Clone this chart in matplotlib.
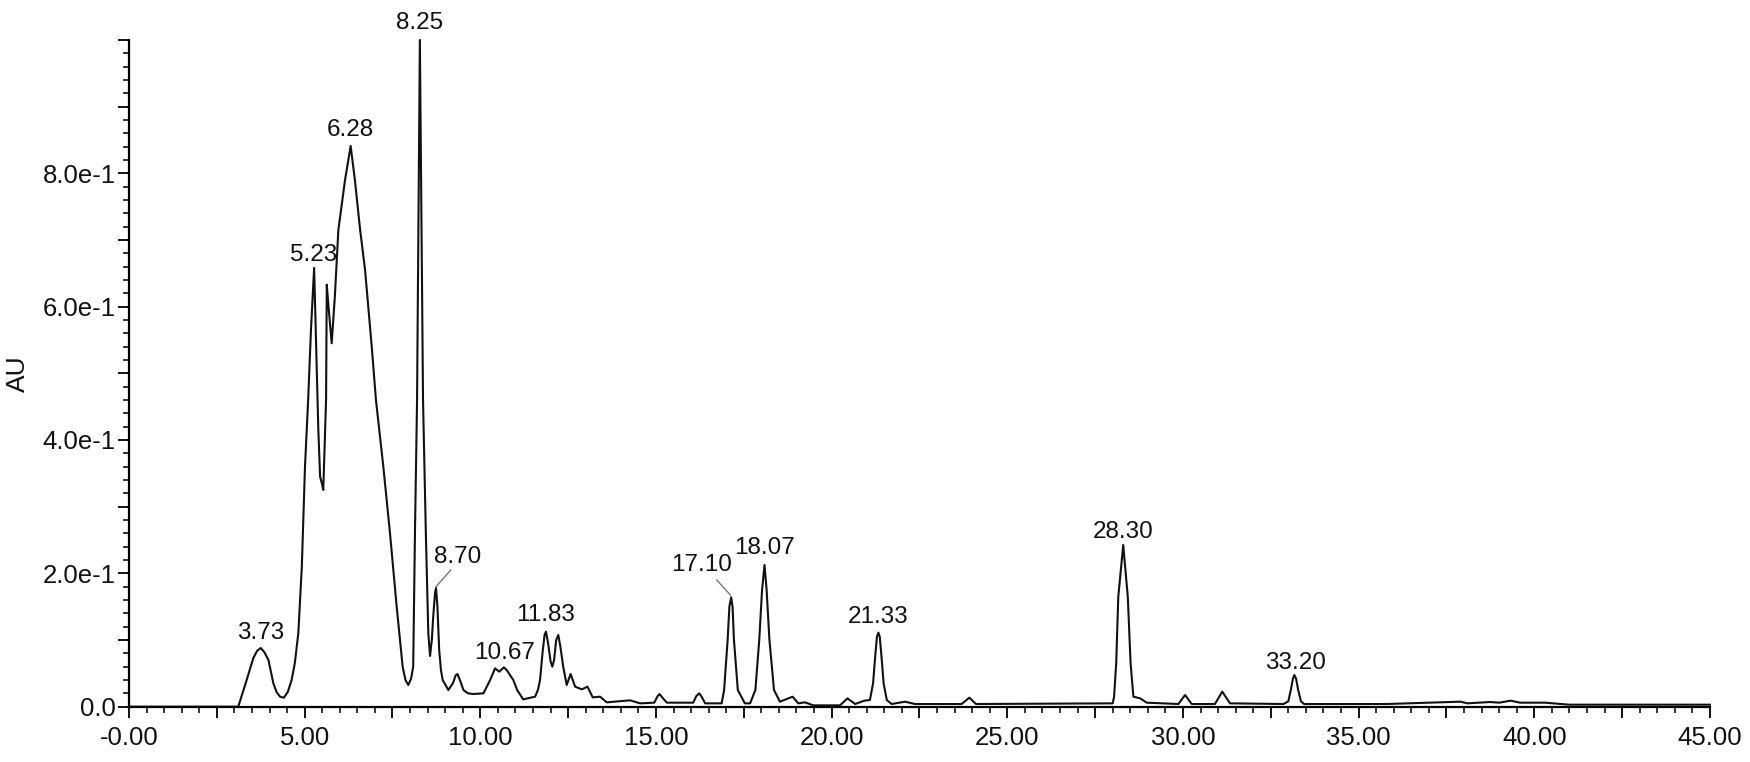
import matplotlib
matplotlib.use('Agg')
import matplotlib.pyplot as plt
import numpy as np
from matplotlib.ticker import MultipleLocator, FixedLocator, FuncFormatter

plt.rcParams['font.family'] = ['Liberation Sans', 'DejaVu Sans']

# trace (time in min, absorbance in AU)
times = [0.00, 3.11, 3.20, 3.35, 3.54, 3.65, 3.75, 3.85, 3.97, 4.05,
         4.11, 4.20, 4.30, 4.41, 4.52, 4.63, 4.72, 4.82, 4.92, 5.01,
         5.10, 5.18, 5.27, 5.34, 5.39, 5.44, 5.49, 5.53, 5.61, 5.63,
         5.68, 5.77, 5.86, 5.96, 6.15, 6.31, 6.43, 6.58, 6.72, 6.91,
         7.03, 7.24, 7.43, 7.62, 7.79, 7.87, 7.95, 8.03, 8.09, 8.14,
         8.20, 8.28, 8.37, 8.45, 8.52, 8.57, 8.62, 8.66, 8.71, 8.74,
         8.78, 8.83, 8.88, 8.93, 9.09, 9.22, 9.30, 9.35, 9.42, 9.52,
         9.65, 9.80, 10.09, 10.28, 10.42, 10.54, 10.67, 10.75, 10.94, 11.05,
         11.22, 11.56, 11.64, 11.70, 11.77, 11.83, 11.87, 11.93, 12.00, 12.05,
         12.10, 12.16, 12.22, 12.28, 12.36, 12.46, 12.57, 12.70, 12.89, 13.05,
         13.20, 13.41, 13.60, 14.26, 14.55, 14.95, 15.05, 15.10, 15.16, 15.31,
         16.06, 16.15, 16.23, 16.30, 16.40, 16.87, 16.94, 17.04, 17.09, 17.14,
         17.18, 17.22, 17.33, 17.53, 17.68, 17.83, 17.94, 18.02, 18.09, 18.15,
         18.23, 18.36, 18.53, 18.89, 19.05, 19.24, 19.48, 20.24, 20.45, 20.67,
         20.93, 21.09, 21.18, 21.24, 21.29, 21.33, 21.37, 21.42, 21.48, 21.57,
         21.71, 22.09, 22.37, 23.70, 23.92, 24.11, 28.00, 28.04, 28.10, 28.16,
         28.30, 28.43, 28.51, 28.59, 28.78, 28.97, 29.87, 30.06, 30.25, 30.91,
         31.12, 31.34, 32.86, 33.00, 33.07, 33.13, 33.17, 33.22, 33.28, 33.36,
         33.45, 35.80, 37.90, 38.10, 38.74, 39.00, 39.33, 39.60, 40.30, 41.00,
         45.00]
absorb = [0.000, 0.000, 0.015, 0.040, 0.073, 0.084, 0.088, 0.082, 0.070, 0.050,
          0.035, 0.022, 0.015, 0.0135, 0.022, 0.040, 0.065, 0.110, 0.210, 0.360,
          0.460, 0.565, 0.658, 0.515, 0.415, 0.345, 0.335, 0.325, 0.460, 0.633,
          0.600, 0.545, 0.615, 0.715, 0.790, 0.841, 0.790, 0.715, 0.655, 0.540,
          0.460, 0.360, 0.260, 0.150, 0.060, 0.040, 0.0325, 0.042, 0.060, 0.260,
          0.460, 1.000, 0.460, 0.260, 0.110, 0.076, 0.100, 0.135, 0.170, 0.178,
          0.150, 0.085, 0.055, 0.040, 0.025, 0.035, 0.047, 0.049, 0.040, 0.025,
          0.020, 0.019, 0.020, 0.040, 0.0575, 0.0525, 0.059, 0.055, 0.040, 0.025,
          0.011, 0.015, 0.025, 0.040, 0.080, 0.108, 0.1125, 0.095, 0.068, 0.060,
          0.070, 0.100, 0.1075, 0.090, 0.060, 0.0325, 0.049, 0.030, 0.026, 0.030,
          0.014, 0.015, 0.0065, 0.0095, 0.005, 0.006, 0.016, 0.019, 0.015, 0.006,
          0.006, 0.016, 0.020, 0.015, 0.005, 0.005, 0.025, 0.100, 0.150, 0.164,
          0.150, 0.100, 0.025, 0.005, 0.005, 0.025, 0.100, 0.175, 0.2125, 0.175,
          0.100, 0.025, 0.0075, 0.015, 0.005, 0.0065, 0.002, 0.002, 0.0125, 0.004,
          0.009, 0.010, 0.035, 0.075, 0.105, 0.111, 0.105, 0.075, 0.035, 0.010,
          0.004, 0.0075, 0.004, 0.004, 0.0135, 0.004, 0.005, 0.015, 0.065, 0.165,
          0.2425, 0.165, 0.065, 0.015, 0.0125, 0.006, 0.004, 0.0175, 0.004, 0.004,
          0.0225, 0.005, 0.004, 0.008, 0.025, 0.042, 0.0475, 0.042, 0.025, 0.008,
          0.004, 0.004, 0.0075, 0.005, 0.007, 0.006, 0.009, 0.006, 0.006, 0.003,
          0.003]

# peak labels and where their text sits
peak_labels = ['3.73', '5.23', '6.28', '8.25', '8.70', '10.67',
               '11.83', '17.10', '18.07', '21.33', '28.30', '33.20']
label_t = [3.75, 5.27, 6.31, 8.28, 9.35, 10.69,
           11.87, 16.30, 18.10, 21.33, 28.30, 33.19]
label_au = [0.110, 0.677, 0.865, 1.026, 0.225, 0.080,
            0.1375, 0.2125, 0.2375, 0.134, 0.2625, 0.066]

# leader lines: (label end) -> (peak top)
leaders = [((9.16, 0.205), (8.74, 0.180)),
           ((16.73, 0.190), (17.12, 0.1675))]

fig = plt.figure(figsize=(17.5, 7.62), dpi=100)
ax = fig.add_axes([0.0737, 0.0726, 0.9034, 0.875])

ax.plot(times, absorb, color='#111111', linewidth=1.5, clip_on=False,
        solid_joinstyle='round')

for txt, lx, ly in zip(peak_labels, label_t, label_au):
    ax.text(lx, ly, txt, ha='center', va='center', fontsize=17.5,
            color='#111111', clip_on=False)

for (x0, y0), (x1, y1) in leaders:
    ax.plot([x0, x1], [y0, y1], color='#777777', linewidth=1.0)

ax.set_xlim(0, 45)
ax.set_ylim(0, 1.0)

ax.spines['top'].set_visible(False)
ax.spines['right'].set_visible(False)
ax.spines['left'].set_linewidth(1.6)
ax.spines['bottom'].set_linewidth(1.6)

ax.xaxis.set_major_locator(MultipleLocator(2.5))
ax.xaxis.set_minor_locator(MultipleLocator(0.5))


def xfmt(v, pos):
    if abs(v % 5) > 1e-6:
        return ''
    if v == 0:
        return '-0.00'
    return '{:.2f}'.format(v)


ax.xaxis.set_major_formatter(FuncFormatter(xfmt))

y_major = np.arange(0, 1.01, 0.1)
y_texts = {0: '0.0', 2: '2.0e-1', 4: '4.0e-1', 6: '6.0e-1', 8: '8.0e-1'}
ax.yaxis.set_major_locator(FixedLocator(y_major))
ax.yaxis.set_minor_locator(MultipleLocator(0.02))
ax.set_yticklabels([y_texts.get(int(round(v * 10)), '') for v in y_major])

ax.tick_params(axis='both', which='major', direction='out', length=8,
               width=1.4, labelsize=18.5, colors='#111111')
ax.tick_params(axis='both', which='minor', direction='out', length=4.3,
               width=1.2, colors='#111111')
ax.tick_params(axis='x', which='major', pad=6)
ax.tick_params(axis='y', which='major', pad=1.5)

ax.set_ylabel('AU', fontsize=19, color='#111111', va='center')
ax.yaxis.set_label_coords(-0.0702, 0.5)

fig.savefig('out.png', dpi=100)
